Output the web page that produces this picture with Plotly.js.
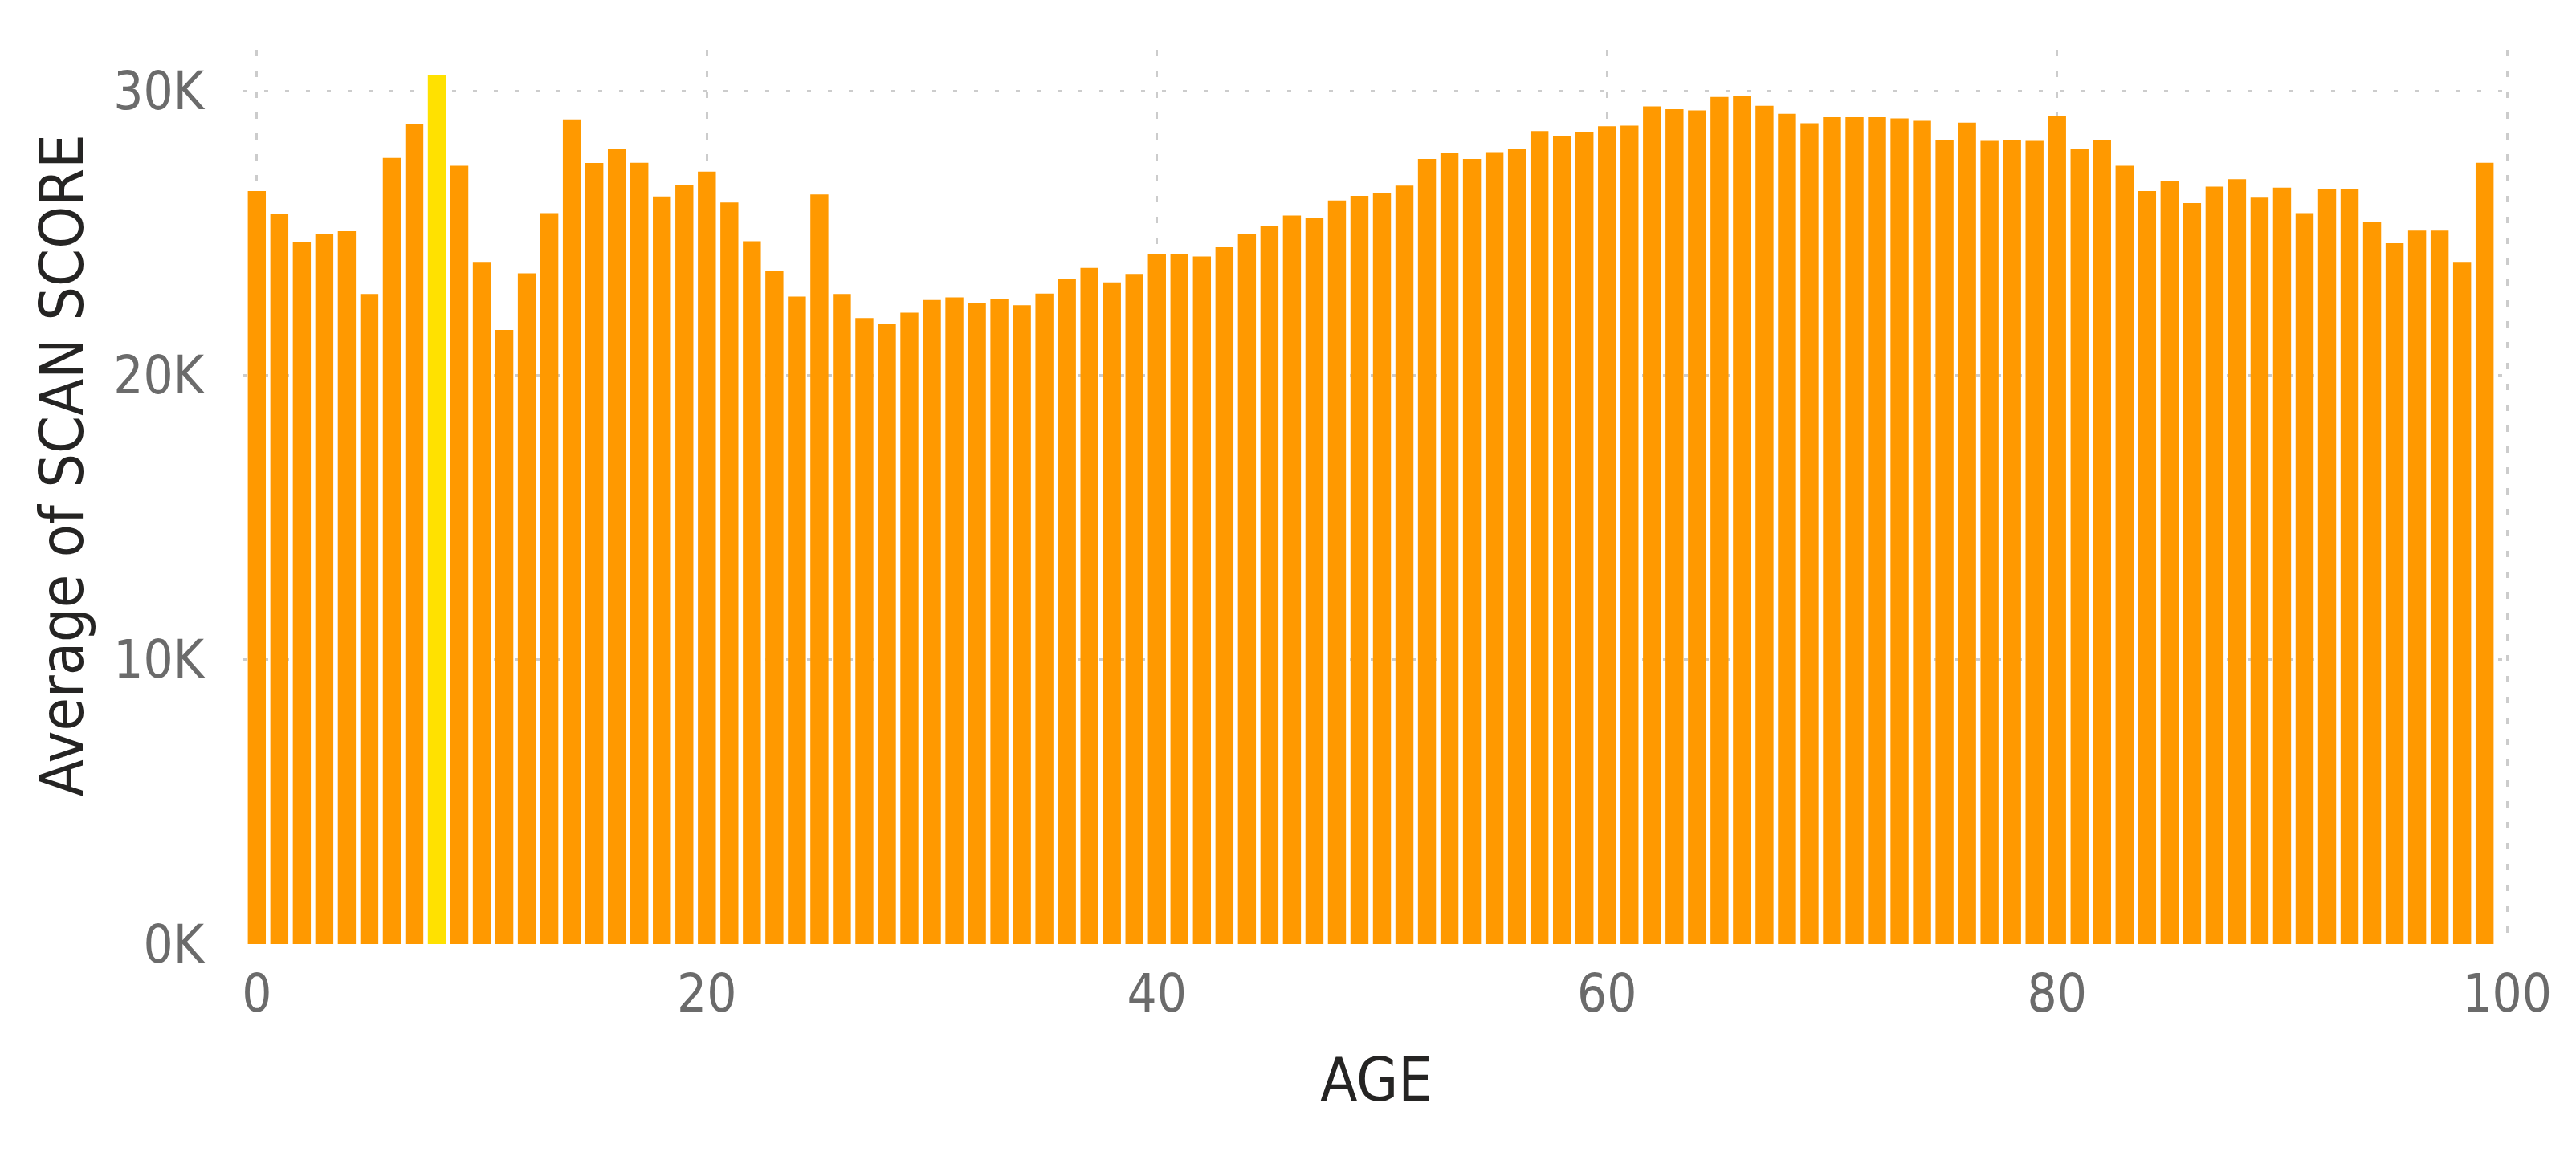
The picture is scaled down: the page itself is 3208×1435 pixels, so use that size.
<!DOCTYPE html>
<html>
<head>
<meta charset="utf-8">
<script src="https://cdn.plot.ly/plotly-3.0.1.min.js"></script>
<style>
  html, body { margin: 0; padding: 0; background: #ffffff; }
  #chart { width: 3208px; height: 1435px; }
</style>
</head>
<body>
<div id="chart"></div>
<script>
// ---- data ----
const ages = [];
for (let a = 0; a <= 99; a++) ages.push(a);

const scanScoreAvg = [
  26470, 25670, 24690, 24970, 25060, 22850, 27640, 28820, 30550, 27360,
  23980, 21590, 23580, 25700, 28990, 27460, 27950, 27470, 26280, 26690,
  27160, 26070, 24710, 23650, 22760, 26350, 22850, 22010, 21790, 22200,
  22640, 22730, 22530, 22670, 22460, 22870, 23370, 23770, 23260, 23560,
  24240, 24240, 24170, 24500, 24950, 25230, 25610, 25530, 26140, 26300,
  26400, 26660, 27600, 27810, 27600, 27840, 27970, 28580, 28410, 28540,
  28750, 28770, 29450, 29350, 29310, 29780, 29820, 29470, 29190, 28860,
  29070, 29070, 29070, 29030, 28940, 28250, 28880, 28240, 28270, 28240,
  29120, 27940, 28270, 27360, 26470, 26830, 26050, 26630, 26890, 26240,
  26590, 25700, 26560, 26560, 25390, 24640, 25080, 25080, 23980, 27470
];

const highlightedAge = 8;
const yTickVals = [0, 10000, 20000, 30000];
const yTickText = ["0K", "10K", "20K", "30K"];
const xTickVals = [0, 20, 40, 60, 80, 100];
const xTickText = ["0", "20", "40", "60", "80", "100"];
const xTitle = "AGE";
const yTitle = "Average of SCAN SCORE";

// ---- styles ----
const barColor = "#FF9900";
const highlightColor = "#FFE100";
const colors = ages.map(a => a === highlightedAge ? highlightColor : barColor);

const tickFont = { family: "DejaVu Sans Condensed, DejaVu Sans, sans-serif", size: 65, color: "#6B6B6B" };
const titleFont = { family: "DejaVu Sans Condensed, DejaVu Sans, sans-serif", size: 75, color: "#252423" };

const trace = {
  type: "bar",
  x: ages,
  y: scanScoreAvg,
  marker: { color: colors, line: { width: 0 } },
  hoverinfo: "x+y"
};

const layout = {
  width: 3208,
  height: 1435,
  paper_bgcolor: "#ffffff",
  plot_bgcolor: "#ffffff",
  margin: { l: 303, r: 83, t: 62, b: 259, pad: 0 },
  bargap: 0.2,
  showlegend: false,
  xaxis: {
    range: [-0.6, 100.1],
    tickmode: "array",
    tickvals: xTickVals,
    ticktext: xTickText,
    tickfont: tickFont,
    ticks: "",
    ticklabelstandoff: 18,
    showline: false,
    zeroline: false,
    showgrid: true,
    gridcolor: "#CCCCCC",
    gridwidth: 3,
    griddash: "8px,18px",
    title: { text: xTitle, font: titleFont, standoff: 44 },
    automargin: false,
    fixedrange: true
  },
  yaxis: {
    range: [0, 31440],
    tickmode: "array",
    tickvals: yTickVals,
    ticktext: yTickText,
    tickfont: tickFont,
    ticks: "",
    ticklabelstandoff: 48,
    showline: false,
    zeroline: false,
    showgrid: true,
    gridcolor: "#CCCCCC",
    gridwidth: 3,
    griddash: "5px,21px",
    automargin: false,
    fixedrange: true
  },
  annotations: [{
    text: yTitle,
    xref: "paper",
    yref: "paper",
    x: -0.080,
    y: 0.535,
    xanchor: "center",
    yanchor: "middle",
    textangle: -90,
    showarrow: false,
    font: titleFont
  }]
};

Plotly.newPlot("chart", [trace], layout, { displayModeBar: false, staticPlot: true });
</script>
</body>
</html>
